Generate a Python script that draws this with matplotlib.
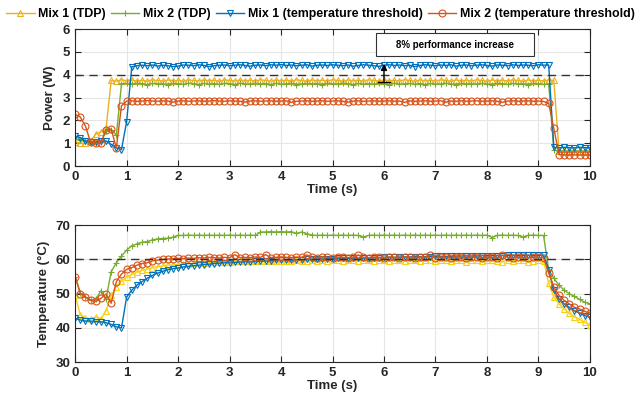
import numpy as np
import matplotlib.pyplot as plt
from matplotlib.patches import Rectangle

# sample times (0.1 s steps)
time_s = np.round(np.arange(0, 10.05, 0.1), 1)

# power (W)
p_mix1_tdp = [
    1.05, 1.00, 1.00, 1.10, 1.40, 1.50, 1.65, 3.75, 3.72, 3.78,
    3.74, 3.77, 3.73, 3.76, 3.72, 3.78, 3.75, 3.73, 3.77, 3.74,
    3.76, 3.72, 3.78, 3.75, 3.73, 3.77, 3.74, 3.76, 3.72, 3.78,
    3.75, 3.73, 3.77, 3.74, 3.76, 3.73, 3.78, 3.75, 3.72, 3.77,
    3.74, 3.76, 3.73, 3.78, 3.75, 3.72, 3.77, 3.74, 3.76, 3.73,
    3.78, 3.75, 3.72, 3.77, 3.74, 3.76, 3.73, 3.78, 3.75, 3.72,
    3.77, 3.74, 3.76, 3.73, 3.78, 3.75, 3.72, 3.77, 3.74, 3.76,
    3.73, 3.78, 3.75, 3.72, 3.77, 3.74, 3.76, 3.73, 3.78, 3.75,
    3.72, 3.77, 3.74, 3.76, 3.73, 3.78, 3.75, 3.72, 3.77, 3.74,
    3.76, 3.73, 3.78, 3.75, 0.68, 0.66, 0.65, 0.66, 0.65, 0.66,
    0.65]
p_mix2_tdp = [
    1.20, 1.15, 1.10, 1.00, 1.00, 1.05, 1.55, 1.60, 1.35, 3.60,
    3.62, 3.58, 3.63, 3.60, 3.57, 3.62, 3.59, 3.61, 3.56, 3.62,
    3.60, 3.58, 3.63, 3.60, 3.57, 3.62, 3.59, 3.61, 3.58, 3.62,
    3.60, 3.57, 3.63, 3.60, 3.58, 3.62, 3.59, 3.61, 3.57, 3.62,
    3.60, 3.58, 3.63, 3.56, 3.58, 3.62, 3.59, 3.61, 3.57, 3.62,
    3.60, 3.58, 3.63, 3.60, 3.57, 3.62, 3.59, 3.61, 3.58, 3.62,
    3.60, 3.57, 3.63, 3.60, 3.58, 3.62, 3.59, 3.61, 3.57, 3.62,
    3.60, 3.58, 3.63, 3.60, 3.57, 3.62, 3.59, 3.61, 3.58, 3.62,
    3.60, 3.57, 3.63, 3.60, 3.58, 3.62, 3.59, 3.61, 3.57, 3.62,
    3.60, 3.58, 3.60, 0.70, 0.66, 0.65, 0.66, 0.65, 0.66, 0.65,
    0.65]
p_mix1_thr = [
    1.30, 1.25, 1.10, 1.05, 1.05, 1.10, 1.10, 0.95, 0.80, 0.72,
    1.95, 4.35, 4.40, 4.42, 4.40, 4.43, 4.38, 4.42, 4.40, 4.36,
    4.38, 4.43, 4.42, 4.40, 4.44, 4.41, 4.36, 4.40, 4.42, 4.43,
    4.40, 4.42, 4.44, 4.41, 4.38, 4.42, 4.43, 4.40, 4.44, 4.42,
    4.45, 4.41, 4.43, 4.40, 4.42, 4.44, 4.38, 4.42, 4.43, 4.41,
    4.44, 4.42, 4.40, 4.43, 4.38, 4.41, 4.44, 4.42, 4.40, 4.37,
    4.42, 4.44, 4.41, 4.43, 4.40, 4.42, 4.36, 4.41, 4.44, 4.42,
    4.40, 4.43, 4.41, 4.44, 4.38, 4.42, 4.43, 4.40, 4.42, 4.44,
    4.41, 4.38, 4.43, 4.42, 4.40, 4.44, 4.41, 4.43, 4.42, 4.40,
    4.44, 4.42, 4.43, 0.82, 0.80, 0.82, 0.81, 0.80, 0.82, 0.81,
    0.80]
p_mix2_thr = [
    2.26, 2.15, 1.75, 1.04, 1.00, 1.00, 1.60, 1.62, 0.79, 2.64,
    2.85, 2.86, 2.84, 2.85, 2.87, 2.85, 2.84, 2.86, 2.85, 2.80,
    2.85, 2.86, 2.84, 2.85, 2.86, 2.84, 2.85, 2.87, 2.85, 2.84,
    2.86, 2.85, 2.84, 2.80, 2.85, 2.86, 2.84, 2.85, 2.86, 2.84,
    2.85, 2.86, 2.79, 2.84, 2.85, 2.86, 2.84, 2.85, 2.86, 2.84,
    2.85, 2.86, 2.84, 2.80, 2.85, 2.86, 2.84, 2.85, 2.86, 2.84,
    2.85, 2.86, 2.84, 2.85, 2.79, 2.86, 2.84, 2.85, 2.86, 2.84,
    2.85, 2.86, 2.80, 2.85, 2.84, 2.86, 2.84, 2.85, 2.86, 2.84,
    2.85, 2.86, 2.84, 2.79, 2.85, 2.86, 2.84, 2.85, 2.86, 2.84,
    2.85, 2.83, 2.75, 1.65, 0.50, 0.48, 0.48, 0.49, 0.48, 0.48,
    0.48]

# temperature (deg C)
t_mix1_tdp = [
    49.5, 43.8, 43.0, 42.5, 43.2, 42.6, 45.0, 49.5, 52.0, 53.7,
    54.8, 55.6, 56.3, 56.8, 57.2, 57.6, 57.9, 58.1, 58.3, 58.4,
    58.5, 58.7, 58.8, 58.9, 59.0, 59.0, 59.1, 59.2, 59.2, 59.3,
    59.3, 59.4, 59.4, 59.5, 59.4, 59.5, 59.5, 59.6, 59.5, 59.6,
    59.6, 59.5, 59.6, 59.7, 59.6, 59.6, 59.7, 59.6, 59.7, 59.6,
    59.7, 59.7, 59.6, 59.7, 59.7, 59.6, 59.7, 59.7, 59.6, 59.7,
    59.7, 59.6, 59.7, 59.7, 59.6, 59.7, 59.7, 59.6, 59.7, 59.7,
    59.6, 59.7, 59.7, 59.6, 59.7, 59.7, 59.3, 59.7, 59.7, 59.6,
    59.7, 59.7, 59.6, 59.3, 59.7, 59.6, 59.7, 59.7, 59.3, 59.6,
    59.7, 59.6, 53.0, 49.0, 47.0, 45.5, 44.2, 43.2, 42.5, 41.6,
    40.9]
t_mix2_tdp = [
    55.0, 50.2, 49.0, 48.1, 48.3, 50.8, 48.5, 56.4, 59.0, 61.0,
    62.7, 64.0, 64.5, 65.0, 65.2, 65.7, 66.0, 66.1, 66.2, 66.5,
    67.0, 67.0, 67.1, 67.0, 67.1, 67.0, 67.1, 67.0, 67.1, 67.0,
    67.1, 67.0, 67.1, 67.0, 67.1, 67.0, 68.0, 68.0, 68.1, 68.0,
    68.1, 68.0, 68.1, 67.6, 68.0, 67.5, 67.1, 67.0, 67.1, 67.0,
    67.1, 67.0, 67.1, 67.0, 67.1, 67.0, 66.5, 67.0, 67.1, 67.0,
    67.1, 67.0, 67.1, 67.0, 67.1, 67.0, 67.1, 67.0, 67.1, 67.0,
    67.1, 67.0, 67.1, 67.0, 67.1, 67.0, 67.1, 67.0, 67.1, 67.0,
    67.1, 66.4, 67.0, 67.1, 67.0, 67.1, 67.0, 66.5, 67.0, 67.1,
    67.0, 67.0, 57.0, 54.5, 52.5, 51.0, 50.0, 49.2, 48.3, 47.5,
    47.0]
t_mix1_thr = [
    42.8, 42.3, 42.0, 42.0, 41.8, 41.8, 41.5, 41.0, 40.3, 40.0,
    49.0, 51.0, 52.5, 53.5, 54.5, 55.3, 56.0, 56.5, 57.0, 57.3,
    57.5, 57.8, 58.0, 58.2, 58.3, 58.5, 58.6, 58.8, 58.9, 59.0,
    59.0, 59.1, 59.2, 59.3, 59.3, 59.4, 59.5, 59.5, 59.6, 59.7,
    59.7, 59.8, 59.8, 59.9, 59.9, 60.0, 60.0, 60.1, 60.1, 60.2,
    60.2, 60.3, 60.3, 60.3, 60.4, 60.4, 60.4, 60.5, 60.5, 60.5,
    60.6, 60.6, 60.6, 60.7, 60.7, 60.7, 60.8, 60.8, 60.8, 60.8,
    60.9, 60.9, 60.9, 60.9, 61.0, 61.0, 61.0, 61.0, 61.0, 61.1,
    61.1, 61.1, 61.1, 61.1, 61.2, 61.2, 61.2, 61.2, 61.2, 61.2,
    61.2, 61.2, 57.0, 51.0, 48.5, 47.0, 46.0, 45.0, 44.3, 43.6,
    43.1]
t_mix2_thr = [
    55.0, 50.0, 49.0, 48.1, 47.7, 48.6, 49.9, 47.2, 53.5, 55.7,
    57.1, 57.6, 58.3, 58.8, 59.0, 59.6, 59.8, 60.0, 60.1, 60.2,
    60.3, 60.2, 60.4, 60.3, 60.5, 60.4, 60.6, 60.5, 60.4, 60.6,
    60.5, 61.4, 60.5, 60.6, 60.5, 60.7, 60.6, 61.4, 60.5, 60.6,
    60.7, 60.6, 60.5, 60.7, 60.6, 61.3, 60.6, 60.5, 60.7, 60.6,
    60.5, 60.7, 60.6, 60.5, 60.7, 61.3, 60.6, 60.5, 60.7, 60.6,
    60.5, 60.7, 60.6, 60.5, 60.7, 60.6, 60.5, 60.7, 60.6, 61.3,
    60.5, 60.7, 60.6, 60.5, 60.7, 60.6, 60.5, 60.7, 60.6, 60.5,
    60.7, 60.6, 60.5, 61.3, 60.6, 60.5, 60.7, 60.6, 60.5, 60.7,
    60.6, 60.5, 56.0, 52.0, 49.5, 48.0, 47.0, 46.0, 45.5, 44.8,
    44.3]

labels = ['Mix 1 (TDP)', 'Mix 2 (TDP)', 'Mix 1 (temperature threshold)',
          'Mix 2 (temperature threshold)']
markers = ['^', '+', 'v', 'o']
power_colors = ['#EDB120', '#77AC30', '#0072BD', '#D95319']
temp_colors = ['#F7D117', '#77AC30', '#0072BD', '#D95319']

plt.rcParams['font.family'] = ['Liberation Sans', 'DejaVu Sans']
plt.rcParams['font.weight'] = 'bold'
dark = '#262626'

fig = plt.figure(figsize=(6.37, 4.05), dpi=100)
ax1 = fig.add_axes([0.118, 0.590, 0.808, 0.338])
ax2 = fig.add_axes([0.118, 0.106, 0.808, 0.338])


def style_axes(ax):
    ax.set_xlim(0, 10)
    ax.set_xticks(range(0, 11))
    ax.grid(True, color='#e6e6e6', linewidth=0.8)
    ax.set_axisbelow(True)
    ax.tick_params(direction='in', top=True, right=True, length=4,
                   labelsize=9.5, colors=dark, width=0.8)
    for lbl in ax.get_xticklabels() + ax.get_yticklabels():
        lbl.set_fontweight('bold')
    for s in ax.spines.values():
        s.set_color(dark)
        s.set_linewidth(0.8)
    ax.set_xlabel('Time (s)', fontsize=9.5, fontweight='bold', color=dark, labelpad=1)


series_p = [p_mix1_tdp, p_mix2_tdp, p_mix1_thr, p_mix2_thr]
series_t = [t_mix1_tdp, t_mix2_tdp, t_mix1_thr, t_mix2_thr]

handles = []
for vals, lab, mk, col in zip(series_p, labels, markers, power_colors):
    h, = ax1.plot(time_s, vals, marker=mk, color=col, markerfacecolor='none',
                  markersize=5, linewidth=1.0, markeredgewidth=0.8, label=lab)
    handles.append(h)
ax1.axhline(4, color='#333333', linestyle=(0, (6, 4)), linewidth=1.0)
ax1.set_ylim(0, 6)
ax1.set_yticks(range(0, 7))
ax1.set_ylabel('Power (W)', fontsize=9.5, fontweight='bold', color=dark, labelpad=5)
style_axes(ax1)

# performance gain marker
ax1.annotate('', xy=(6, 4.48), xytext=(6, 3.68),
             arrowprops=dict(arrowstyle='-|>', color='black', lw=1.0,
                             mutation_scale=9, shrinkA=0, shrinkB=0))
ax1.plot([5.88, 6.12], [3.68, 3.68], color='black', linewidth=1.0)
fig.patches.append(Rectangle((0.590, 0.862), 0.248, 0.057, transform=fig.transFigure,
                             facecolor='white', edgecolor='#333333', linewidth=0.8,
                             zorder=5))
fig.text(0.714, 0.890, '8% performance increase', fontsize=7, fontweight='bold',
         ha='center', va='center', color='black', zorder=6)

for vals, mk, col in zip(series_t, markers, temp_colors):
    ax2.plot(time_s, vals, marker=mk, color=col, markerfacecolor='none',
             markersize=5, linewidth=1.0, markeredgewidth=0.8)
ax2.axhline(60, color='#333333', linestyle=(0, (6, 4)), linewidth=1.0)
ax2.set_ylim(30, 70)
ax2.set_yticks(range(30, 71, 10))
ax2.set_ylabel('Temperature (\u00b0C)', fontsize=9.5, fontweight='bold', color=dark, labelpad=4)
style_axes(ax2)

fig.legend(handles=handles, loc='upper center', bbox_to_anchor=(0.503, 1.005), ncol=4,
           frameon=False, handlelength=2.3, handletextpad=0.3,
           columnspacing=0.4, borderpad=0.3, prop={'weight': 'bold', 'size': 8.9})

fig.savefig('out.png', dpi=100)
